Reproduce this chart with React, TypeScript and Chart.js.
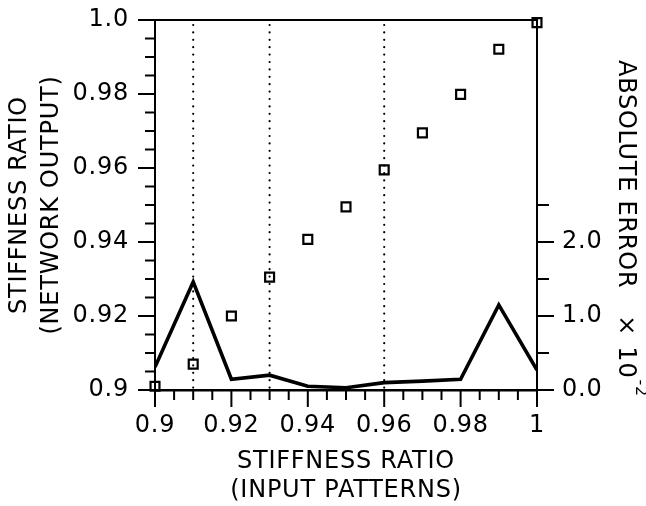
import React, { useEffect, useRef } from "react";
import { Chart, registerables } from "chart.js";

Chart.register(...registerables);

// ---- data ----
const inputRatios = [0.9, 0.91, 0.92, 0.93, 0.94, 0.95, 0.96, 0.97, 0.98, 0.99, 1.0];
const networkOutput = [0.901, 0.907, 0.92, 0.9305, 0.9407, 0.9495, 0.9595, 0.9695, 0.9799, 0.9921, 0.9993];
const absoluteError = [0.31, 1.46, 0.145, 0.2, 0.05, 0.03, 0.1, 0.12, 0.145, 1.15, 0.27];
const dottedGuides = [0.91, 0.93, 0.96];

const xTickValues = [0.9, 0.92, 0.94, 0.96, 0.98, 1.0];
const xTickLabels = ["0.9", "0.92", "0.94", "0.96", "0.98", "1"];
const yTickValues = [0.9, 0.92, 0.94, 0.96, 0.98, 1.0];
const yTickLabels = ["0.9", "0.92", "0.94", "0.96", "0.98", "1.0"];
const errTickValues = [0, 1, 2];
const errTickLabels = ["0.0", "1.0", "2.0"];
const errMinorTicks = [0.5, 1.5, 2.5];
const minorStep = 0.005;

const FONT = "'DejaVu Sans', sans-serif";
const LS = "0.75px";

const framePlugin = {
  id: "frame",
  beforeUpdate(chart: any) {
    chart.ctx.letterSpacing = LS;
  },
  beforeDraw(chart: any) {
    chart.ctx.letterSpacing = LS;
  },
  beforeDatasetsDraw(chart: any) {
    const { ctx, chartArea: a, scales } = chart;
    const x = scales.x;
    ctx.save();
    ctx.strokeStyle = "#000";
    ctx.lineWidth = 2.2;
    ctx.lineCap = "round";
    ctx.setLineDash([0, 7.4]);
    for (const g of dottedGuides) {
      const px = x.getPixelForValue(g);
      ctx.beginPath();
      ctx.moveTo(px, a.top + 5);
      ctx.lineTo(px, a.bottom);
      ctx.stroke();
    }
    ctx.restore();
  },
  afterDraw(chart: any) {
    const { ctx, chartArea: a, scales } = chart;
    const x = scales.x;
    const y = scales.y;
    const yr = scales.yR;
    ctx.save();
    ctx.strokeStyle = "#000";
    ctx.lineWidth = 2;
    ctx.lineCap = "butt";
    // top frame line
    ctx.beginPath();
    ctx.moveTo(a.left, a.top);
    ctx.lineTo(a.right + 1, a.top);
    ctx.stroke();
    // x ticks
    const nx = Math.round((1.0 - 0.9) / minorStep);
    for (let i = 0; i <= nx; i++) {
      const v = 0.9 + i * minorStep;
      const px = x.getPixelForValue(v);
      const len = i % 4 === 0 ? 17 : 10;
      ctx.beginPath();
      ctx.moveTo(px, a.bottom);
      ctx.lineTo(px, a.bottom + len);
      ctx.stroke();
    }
    // left y ticks
    for (let i = 0; i <= nx; i++) {
      const v = 0.9 + i * minorStep;
      const py = y.getPixelForValue(v);
      const len = i % 4 === 0 ? 17 : 10;
      ctx.beginPath();
      ctx.moveTo(a.left, py);
      ctx.lineTo(a.left - len, py);
      ctx.stroke();
    }
    // right ticks
    for (const v of errTickValues) {
      const py = yr.getPixelForValue(v);
      ctx.beginPath();
      ctx.moveTo(a.right, py);
      ctx.lineTo(a.right + 17, py);
      ctx.stroke();
    }
    for (const v of errMinorTicks) {
      const py = yr.getPixelForValue(v);
      ctx.beginPath();
      ctx.moveTo(a.right, py);
      ctx.lineTo(a.right + 12, py);
      ctx.stroke();
    }
    // right axis title (rotated, with superscript)
    ctx.fillStyle = "#000";
    ctx.font = `24px ${FONT}`;
    ctx.letterSpacing = LS;
    ctx.translate(625, a.top + 40);
    ctx.rotate(Math.PI / 2);
    ctx.textBaseline = "middle";
    ctx.textAlign = "left";
    const main = "ABSOLUTE ERROR";
    ctx.fillText(main, 0, 0);
    const w1 = ctx.measureText(main).width;
    ctx.fillText("×", w1 + 27, 0);
    ctx.fillText("10", w1 + 58, 0);
    const w10 = ctx.measureText("10").width;
    ctx.font = `16px ${FONT}`;
    ctx.fillText("-2", w1 + 58 + w10 + 1, -15);
    ctx.restore();
  },
};

const zeroPad = (s: any) => {
  s.paddingTop = 0;
  s.paddingBottom = 0;
  s.paddingLeft = 0;
  s.paddingRight = 0;
};

export default function App() {
  const ref = useRef<HTMLCanvasElement | null>(null);

  useEffect(() => {
    if (!ref.current) return;
    const font = { family: FONT, size: 24 };
    const chart = new Chart(ref.current, {
      type: "scatter",
      data: {
        datasets: [
          {
            type: "scatter",
            label: "Network output",
            data: inputRatios.map((v, i) => ({ x: v, y: networkOutput[i] })),
            yAxisID: "y",
            pointStyle: "rect",
            pointRadius: 6.3,
            pointBorderWidth: 2.2,
            borderColor: "#000",
            backgroundColor: "rgba(0,0,0,0)",
            pointBackgroundColor: "rgba(0,0,0,0)",
            pointBorderColor: "#000",
            clip: false,
          } as any,
          {
            type: "line",
            label: "Absolute error",
            data: inputRatios.map((v, i) => ({ x: v, y: absoluteError[i] })),
            yAxisID: "yR",
            borderColor: "#000",
            borderWidth: 3.6,
            pointRadius: 0,
            tension: 0,
            fill: false,
            showLine: true,
            borderJoinStyle: "miter",
          } as any,
        ],
      },
      options: {
        animation: false,
        responsive: false,
        devicePixelRatio: 1,
        layout: { padding: { top: 20, left: 0, right: 0, bottom: 0 } },
        plugins: {
          legend: { display: false },
          tooltip: { enabled: false },
        },
        scales: {
          x: {
            type: "linear",
            position: "bottom",
            min: 0.9,
            max: 1.0,
            grid: { display: false, drawTicks: false },
            border: { display: true, color: "#000", width: 2.4 },
            afterBuildTicks: (s: any) => {
              s.ticks = xTickValues.map((v) => ({ value: v }));
            },
            afterFit: (s: any) => {
              s.height = 116;
              zeroPad(s);
            },
            ticks: {
              autoSkip: false,
              maxRotation: 0,
              padding: 21,
              color: "#000",
              font,
              callback: (_v: any, i: number) => xTickLabels[i],
            },
            title: {
              display: true,
              text: ["STIFFNESS RATIO", "(INPUT PATTERNS)"],
              color: "#000",
              font: { family: FONT, size: 24 },
              padding: { top: 0, bottom: 1 },
            },
          },
          y: {
            type: "linear",
            position: "left",
            min: 0.9,
            max: 1.0,
            grid: { display: false, drawTicks: false },
            border: { display: true, color: "#000", width: 2 },
            afterBuildTicks: (s: any) => {
              s.ticks = yTickValues.map((v) => ({ value: v }));
            },
            afterFit: (s: any) => {
              s.width = 155;
              zeroPad(s);
            },
            ticks: {
              autoSkip: false,
              padding: 26,
              color: "#000",
              font,
              callback: (_v: any, i: number) => yTickLabels[i],
            },
            title: {
              display: true,
              text: ["STIFFNESS RATIO", "(NETWORK OUTPUT)"],
              color: "#000",
              font: { family: FONT, size: 24, lineHeight: "32px" },
              padding: { top: 3.5, bottom: 0 },
            },
          },
          yR: {
            type: "linear",
            position: "right",
            min: 0,
            max: 5,
            grid: { display: false, drawTicks: false },
            border: { display: true, color: "#000", width: 2 },
            afterBuildTicks: (s: any) => {
              s.ticks = errTickValues.map((v) => ({ value: v }));
            },
            afterFit: (s: any) => {
              s.width = 109;
              zeroPad(s);
            },
            ticks: {
              autoSkip: false,
              padding: 25,
              color: "#000",
              font,
              callback: (_v: any, i: number) => errTickLabels[i],
            },
          },
        },
      } as any,
      plugins: [framePlugin as any],
    });
    return () => chart.destroy();
  }, []);

  return (
    <div style={{ position: "fixed", left: 0, top: 0, width: 646, height: 506, background: "#fff" }}>
      <canvas ref={ref} width={646} height={506} style={{ display: "block" }} />
    </div>
  );
}
